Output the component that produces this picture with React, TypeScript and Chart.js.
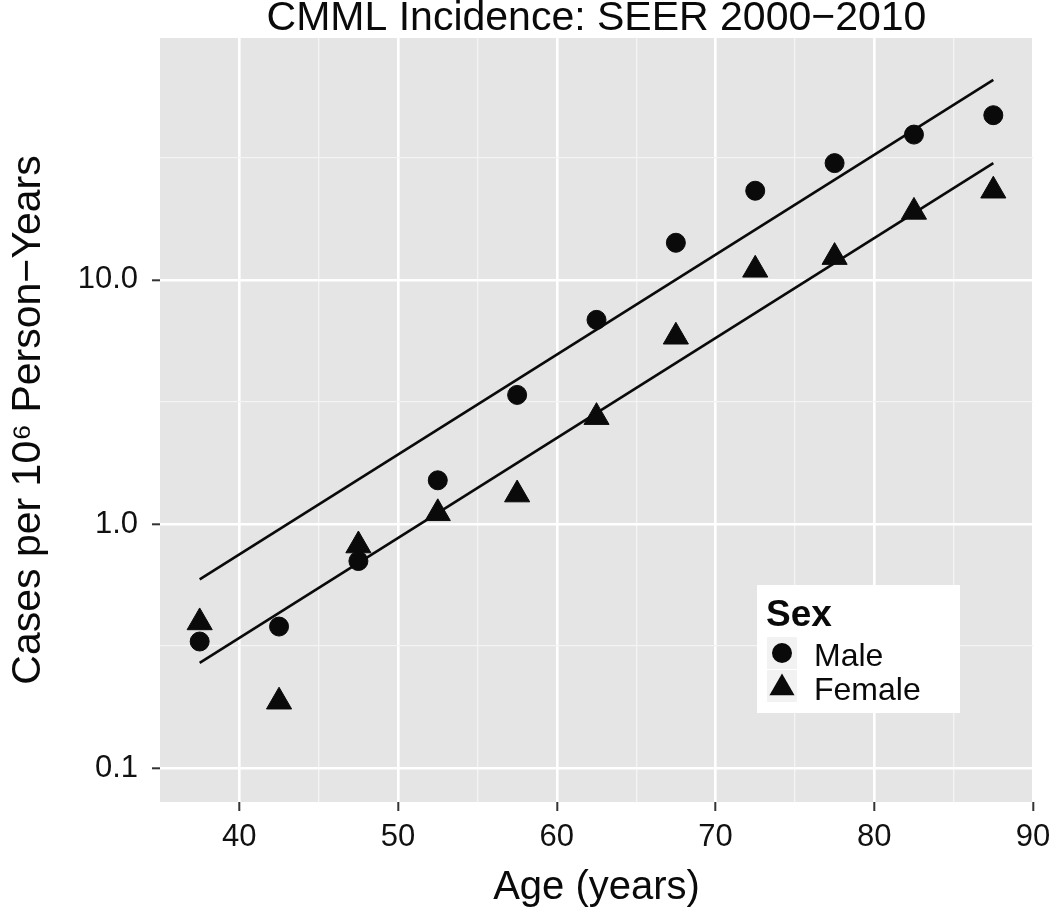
import React, { useEffect, useRef } from 'react';
import { Chart, registerables } from 'chart.js';

Chart.register(...registerables);

// ---- data ----
const ages = [37.5, 42.5, 47.5, 52.5, 57.5, 62.5, 67.5, 72.5, 77.5, 82.5, 87.5];
const maleRates = [0.33, 0.38, 0.705, 1.51, 3.38, 6.86, 14.2, 23.2, 30.1, 39.4, 47.3];
const femaleRates = [0.395, 0.187, 0.816, 1.106, 1.32, 2.74, 5.85, 11.0, 12.4, 19.0, 23.2];
const fitAges = [37.5, 87.5];
const maleFit = [0.593, 66.0];
const femaleFit = [0.27, 30.1];

const xMajorTicks = [40, 50, 60, 70, 80, 90];
const xMinorTicks = [45, 55, 65, 75, 85];
const yMajorTicks = [0.1, 1, 10];
const yMajorLabels = ['0.1', '1.0', '10.0'];
const yMinorTicks = [0.3162, 3.162, 31.62];
const xRange = [35, 90];
const yRange = [0.0726, 98];

const titleText = 'CMML Incidence: SEER 2000\u22122010';
const xTitle = 'Age (years)';
const yTitle = 'Cases per 10\u2076 Person\u2212Years';
const legendTitle = 'Sex';
const seriesNames = ['Male', 'Female'];
const seriesShapes = ['circle', 'triangle'];
const legendPos = [0.8, 0.2]; // fraction of panel (x from left, y from bottom)

const FONT = '"Liberation Sans", Arial, Helvetica, sans-serif';
const INK = '#0a0a0a';

export default function App() {
  const ref = useRef<HTMLCanvasElement>(null);

  useEffect(() => {
    const canvas = ref.current;
    if (!canvas) return;

    const isMajorX = (v: number) => xMajorTicks.some((t) => Math.abs(t - v) < 1e-9);
    const yMajorIndex = (v: number) => yMajorTicks.findIndex((t) => Math.abs(t - v) < 1e-9);

    const panelBg = {
      id: 'panelBg',
      beforeDraw(chart: any) {
        const { ctx, chartArea: a } = chart;
        ctx.save();
        ctx.fillStyle = '#E5E5E5';
        ctx.fillRect(a.left, a.top, a.right - a.left, a.bottom - a.top);
        ctx.restore();
      },
    };

    const plotTitle = {
      id: 'plotTitle',
      afterDraw(chart: any) {
        const { ctx, chartArea: a } = chart;
        ctx.save();
        ctx.fillStyle = INK;
        ctx.textAlign = 'center';
        ctx.textBaseline = 'alphabetic';
        ctx.font = `41px ${FONT}`;
        ctx.fillText(titleText, (a.left + a.right) / 2, a.top - 8);
        ctx.restore();
      },
    };

    const drawShape = (ctx: CanvasRenderingContext2D, shape: string, x: number, y: number) => {
      ctx.beginPath();
      if (shape === 'circle') {
        ctx.arc(x, y, 10, 0, Math.PI * 2);
      } else {
        const r = 14.5;
        for (let k = 0; k < 3; k++) {
          const ang = (k * 2 * Math.PI) / 3;
          const px = x + Math.sin(ang) * r;
          const py = y - Math.cos(ang) * r;
          if (k === 0) ctx.moveTo(px, py);
          else ctx.lineTo(px, py);
        }
        ctx.closePath();
      }
      ctx.fill();
    };

    const legendBox = {
      id: 'legendBox',
      afterDraw(chart: any) {
        const { ctx, chartArea: a } = chart;
        const w = 203;
        const h = 128;
        const cx = a.left + legendPos[0] * (a.right - a.left);
        const cy = a.bottom - legendPos[1] * (a.bottom - a.top);
        const x0 = Math.round(cx - w / 2);
        const y0 = Math.round(cy - h / 2);
        ctx.save();
        ctx.fillStyle = '#ffffff';
        ctx.fillRect(x0, y0, w, h);
        ctx.fillStyle = INK;
        ctx.textAlign = 'left';
        ctx.textBaseline = 'alphabetic';
        ctx.font = `bold 37px ${FONT}`;
        ctx.fillText(legendTitle, x0 + 9, y0 + 41);
        seriesNames.forEach((name, i) => {
          const keyTop = y0 + 52 + i * 33;
          ctx.fillStyle = '#F2F2F2';
          ctx.fillRect(x0 + 10, keyTop, 30, 32);
          ctx.fillStyle = INK;
          drawShape(ctx, seriesShapes[i], x0 + 25, keyTop + (seriesShapes[i] === 'circle' ? 16 : 18));
          ctx.font = `32px ${FONT}`;
          ctx.fillText(name, x0 + 57, keyTop + 29 + i);
        });
        ctx.restore();
      },
    };

    const chart = new Chart(canvas, {
      type: 'scatter',
      data: {
        datasets: [
          {
            label: seriesNames[0],
            data: ages.map((x, i) => ({ x, y: maleRates[i] })),
            pointStyle: 'circle',
            pointRadius: 9.5,
            pointHoverRadius: 9.5,
            backgroundColor: INK,
            borderColor: INK,
            borderWidth: 1,
          },
          {
            label: seriesNames[1],
            data: ages.map((x, i) => ({ x, y: femaleRates[i] })),
            pointStyle: 'triangle',
            pointRadius: 14.5,
            pointHoverRadius: 14.5,
            backgroundColor: INK,
            borderColor: INK,
            borderWidth: 1,
          },
          {
            type: 'line',
            label: 'Male fit',
            data: fitAges.map((x, i) => ({ x, y: maleFit[i] })),
            borderColor: INK,
            borderWidth: 2.6,
            pointRadius: 0,
            fill: false,
            tension: 0,
          },
          {
            type: 'line',
            label: 'Female fit',
            data: fitAges.map((x, i) => ({ x, y: femaleFit[i] })),
            borderColor: INK,
            borderWidth: 2.6,
            pointRadius: 0,
            fill: false,
            tension: 0,
          },
        ] as any,
      },
      options: {
        responsive: false,
        animation: false,
        devicePixelRatio: 1,
        events: [],
        layout: { padding: { top: 38, right: 17, bottom: 0, left: 0 } },
        plugins: {
          legend: { display: false },
          tooltip: { enabled: false },
          title: { display: false },
        },
        scales: {
          x: {
            type: 'linear',
            min: xRange[0],
            max: xRange[1],
            afterBuildTicks: (s: any) => {
              s.ticks = [...xMajorTicks, ...xMinorTicks].sort((p, q) => p - q).map((v) => ({ value: v }));
            },
            afterFit: (s: any) => {
              s.height = 114;
              s.paddingLeft = 0;
              s.paddingRight = 0;
            },
            ticks: {
              autoSkip: false,
              maxRotation: 0,
              minRotation: 0,
              padding: 8,
              color: '#111',
              font: { family: FONT, size: 31 },
              callback: (v: any) => (isMajorX(Number(v)) ? String(v) : ''),
            },
            grid: {
              color: (c: any) => (c.tick && isMajorX(c.tick.value) ? '#FFFFFF' : '#F4F4F4'),
              lineWidth: (c: any) => (c.tick && isMajorX(c.tick.value) ? 2.6 : 1.3),
              tickLength: 9,
              tickWidth: 2,
              tickColor: (c: any) => (c.tick && isMajorX(c.tick.value) ? '#333333' : 'rgba(0,0,0,0)'),
            },
            border: { display: false },
            title: {
              display: true,
              text: xTitle,
              color: INK,
              font: { family: FONT, size: 40, lineHeight: 1.2 },
              padding: { top: 0, bottom: 4 },
            },
          },
          y: {
            type: 'logarithmic',
            min: yRange[0],
            max: yRange[1],
            afterBuildTicks: (s: any) => {
              s.ticks = [...yMajorTicks, ...yMinorTicks].sort((p, q) => p - q).map((v) => ({ value: v }));
            },
            afterFit: (s: any) => {
              s.width = 160;
              s.paddingTop = 0;
              s.paddingBottom = 0;
            },
            ticks: {
              autoSkip: false,
              padding: 14,
              color: '#111',
              font: { family: FONT, size: 31 },
              callback: (v: any) => {
                const i = yMajorIndex(Number(v));
                return i >= 0 ? yMajorLabels[i] : '';
              },
            },
            grid: {
              color: (c: any) => (c.tick && yMajorIndex(c.tick.value) >= 0 ? '#FFFFFF' : '#F4F4F4'),
              lineWidth: (c: any) => (c.tick && yMajorIndex(c.tick.value) >= 0 ? 2.6 : 1.3),
              tickLength: 8,
              tickWidth: 2,
              tickColor: (c: any) => (c.tick && yMajorIndex(c.tick.value) >= 0 ? '#333333' : 'rgba(0,0,0,0)'),
            },
            border: { display: false },
            title: {
              display: true,
              text: yTitle,
              color: INK,
              font: { family: FONT, size: 41, lineHeight: 1.2 },
              padding: { top: 4, bottom: 0 },
            },
          },
        },
      } as any,
      plugins: [panelBg, plotTitle, legendBox],
    });

    return () => chart.destroy();
  }, []);

  return (
    <div style={{ position: 'fixed', left: 0, top: 0, width: 1050, height: 916, background: '#ffffff' }}>
      <canvas ref={ref} width={1050} height={916} style={{ display: 'block', width: 1050, height: 916 }} />
    </div>
  );
}
